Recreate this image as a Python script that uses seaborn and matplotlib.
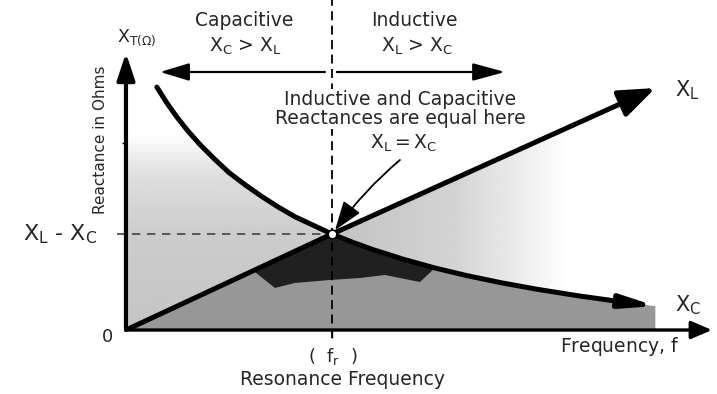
import numpy as np
import matplotlib
matplotlib.use('Agg')
import matplotlib.pyplot as plt
from matplotlib.patches import Polygon
import seaborn as sns

# values (frequency in units of f_r, reactance in units of X at f_r)
f_res = 1.0
xl_freq = np.array([0.0, 1.0, 2.57])
xl_react = np.array([0.0, 1.0, 2.52])
xc_freq = np.array([0.15, 0.20, 0.25, 0.30, 0.36, 0.43, 0.50, 0.58, 0.66, 0.74, 0.82, 0.91,
                    1.0, 1.1, 1.2, 1.35, 1.5, 1.65, 1.82, 2.0, 2.2, 2.4, 2.57])
xc_react = np.array([2.53, 2.36, 2.21, 2.075, 1.93, 1.78, 1.64, 1.51, 1.39, 1.28, 1.18, 1.09,
                     1.0, 0.914, 0.837, 0.735, 0.646, 0.569, 0.493, 0.423, 0.355, 0.295, 0.25])
# lower edge of the dark patch under the crossing point
dark_freq = np.array([0.626, 0.723, 0.82, 0.99, 1.136, 1.257, 1.427, 1.5])
dark_react = np.array([0.604, 0.438, 0.49, 0.521, 0.542, 0.573, 0.50, 0.646])
ytick_pos = [1.95]

sns.set_theme(style='white')
plt.rcParams['font.family'] = ['DejaVu Sans']
plt.rcParams['mathtext.default'] = 'regular'

fig = plt.figure(figsize=(7.17, 3.94), dpi=100)
ax = fig.add_axes([0.1757, 0.1624, 0.8173, 0.7030])

# --- shaded areas ---
right = xc_freq >= f_res
left = xc_freq <= f_res
med_poly = np.vstack([np.column_stack([xl_freq[:2], xl_react[:2]]),
                      np.column_stack([xc_freq[right], xc_react[right]]),
                      [[xc_freq[-1], 0.0]]])
ax.add_patch(Polygon(med_poly, closed=True, facecolor='#979797', edgecolor='none', zorder=1))

dark_top = np.column_stack([[dark_freq[0], f_res], [dark_react[0], 1.0]])
xc_mid = (xc_freq > f_res) & (xc_freq < dark_freq[-1])
dark_poly = np.vstack([dark_top,
                       np.column_stack([xc_freq[xc_mid], xc_react[xc_mid]]),
                       np.column_stack([dark_freq[::-1], dark_react[::-1]])])
ax.add_patch(Polygon(dark_poly, closed=True, facecolor='#202020', edgecolor='none', zorder=2))

left_poly = np.vstack([np.column_stack([xl_freq[:2], xl_react[:2]]),
                       np.column_stack([xc_freq[left][::-1], xc_react[left][::-1]]),
                       [[0.0, xc_react[0]]]])
lp = Polygon(left_poly, closed=True, facecolor='none', edgecolor='none')
ax.add_patch(lp)
yy = np.linspace(0, 2.6, 200)
shade_v = np.interp(yy, [0, 1.0, 1.6, 2.05], [0.77, 0.80, 0.87, 1.0])
im = ax.imshow(shade_v[:, None], extent=[0, 1, 0, 2.6], origin='lower', cmap='gray',
               vmin=0, vmax=1, aspect='auto', interpolation='bilinear', zorder=1)
im.set_clip_path(lp)

right_poly = np.vstack([np.column_stack([xl_freq[1:], xl_react[1:]]),
                        np.column_stack([xc_freq[right][::-1], xc_react[right][::-1]])])
rp = Polygon(right_poly, closed=True, facecolor='none', edgecolor='none')
ax.add_patch(rp)
xx = np.linspace(1, 2.6, 200)
shade_h = np.interp(xx, [1.0, 1.6, 2.15], [0.76, 0.83, 1.0])
im2 = ax.imshow(shade_h[None, :], extent=[1, 2.6, 0, 2.6], origin='lower', cmap='gray',
                vmin=0, vmax=1, aspect='auto', interpolation='bilinear', zorder=1)
im2.set_clip_path(rp)

# --- guide lines ---
ax.axvline(f_res, ymin=-0.03, ymax=1.2, color='black', lw=1.3, ls=(0, (5, 3)), clip_on=False, zorder=3)
ax.axhline(1.0, xmin=-0.015, xmax=f_res / 2.845, color='#444444', lw=1.2, ls=(0, (5, 4)), clip_on=False, zorder=3)

# --- XL and XC curves ---
sns.lineplot(x=xl_freq[:2], y=xl_react[:2], color='black', lw=3.6, ax=ax, zorder=5)
ax.annotate('', xy=(xl_freq[-1], xl_react[-1]), xytext=(xl_freq[-2], xl_react[-2]),
            arrowprops=dict(arrowstyle='-|>,head_length=1.1,head_width=0.42', mutation_scale=20,
                            lw=3.6, color='black', shrinkA=0, shrinkB=0), zorder=5)
sns.lineplot(x=xc_freq[:-1], y=xc_react[:-1], color='black', lw=3.6, ax=ax, zorder=5)
ax.annotate('', xy=(xc_freq[-1], xc_react[-1]), xytext=(xc_freq[-2], xc_react[-2]),
            arrowprops=dict(arrowstyle='-|>,head_length=1.0,head_width=0.2', mutation_scale=20,
                            lw=3.6, color='black', shrinkA=0, shrinkB=0), zorder=5)
sns.scatterplot(x=[f_res], y=[1.0], s=40, color='white', edgecolor='black', linewidth=1.2, ax=ax, zorder=7)

# --- axes drawn as arrows ---
ax.annotate('', xy=(1, 0), xytext=(0, 0), xycoords='axes fraction',
            arrowprops=dict(arrowstyle='-|>,head_length=0.7,head_width=0.3', mutation_scale=18,
                            lw=2.4, color='black', shrinkA=0, shrinkB=0), zorder=6)
ax.annotate('', xy=(0, 1), xytext=(0, 0), xycoords='axes fraction',
            arrowprops=dict(arrowstyle='-|>,head_length=0.9,head_width=0.3', mutation_scale=18,
                            lw=3.0, color='black', shrinkA=0, shrinkB=0), zorder=6)
for s in ax.spines.values():
    s.set_visible(False)

ax.set_xticks([f_res])
ax.set_xticklabels([''])
ax.set_yticks(ytick_pos)
ax.set_yticklabels([''])
ax.tick_params(axis='x', direction='out', length=6, width=1, color='black', bottom=True)
ax.tick_params(axis='y', direction='inout', length=6, width=1, color='black', left=True)
ax.set_xlim(0, 2.845)
ax.set_ylim(0, 2.885)

# --- region arrows at the top ---
ax.annotate('', xy=(0.165, 2.6875), xytext=(0.966, 2.6875),
            arrowprops=dict(arrowstyle='-|>,head_length=1.0,head_width=0.3', mutation_scale=18,
                            lw=1.6, color='black', shrinkA=0, shrinkB=0), annotation_clip=False)
ax.annotate('', xy=(1.84, 2.6875), xytext=(1.024, 2.6875),
            arrowprops=dict(arrowstyle='-|>,head_length=1.1,head_width=0.3', mutation_scale=18,
                            lw=1.6, color='black', shrinkA=0, shrinkB=0), annotation_clip=False)

fs = 13.5
ax.text(0.573, 3.229, 'Capacitive', ha='center', va='center', fontsize=fs)
ax.text(0.578, 2.958, '$X_C$ > $X_L$', ha='center', va='center', fontsize=fs)
ax.text(1.398, 3.229, 'Inductive', ha='center', va='center', fontsize=fs)
ax.text(1.413, 2.958, '$X_L$ > $X_C$', ha='center', va='center', fontsize=fs)

ax.text(1.33, 2.302, 'Inductive and Capacitive\nReactances are equal here', ha='center', va='center',
        fontsize=fs, linespacing=0.95, zorder=8,
        bbox=dict(facecolor='white', edgecolor='none', pad=1.0))
ax.text(1.35, 1.948, '$X_L = X_C$', ha='center', va='center', fontsize=fs, zorder=8)
ax.annotate('', xy=(1.015, 1.04), xytext=(1.33, 1.771),
            arrowprops=dict(arrowstyle='-|>,head_length=1.0,head_width=0.35', mutation_scale=18,
                            lw=1.3, color='black', shrinkA=0, shrinkB=0,
                            connectionstyle='arc3,rad=0.06'), zorder=8)

ax.text(0.053, 3.04, '$X_{T(\\Omega)}$', ha='center', va='center', fontsize=12.5)
ax.text(-0.126, 1.98, 'Reactance in Ohms', rotation=90, ha='center', va='center', fontsize=11)
ax.text(-0.092, -0.073, '0', ha='center', va='center', fontsize=13)
ax.text(-0.141, 1.0, '$X_L$ - $X_C$', ha='right', va='center', fontsize=16)
ax.text(1.005, -0.28, '(  $f_r$  )', ha='center', va='center', fontsize=13)
ax.text(1.05, -0.52, 'Resonance Frequency', ha='center', va='center', fontsize=fs)
ax.text(2.398, -0.167, 'Frequency, $f$', ha='center', va='center', fontsize=fs)
ax.text(2.723, 2.5, '$X_L$', ha='center', va='center', fontsize=15)
ax.text(2.728, 0.26, '$X_C$', ha='center', va='center', fontsize=15)

fig.savefig('out.png', dpi=100)
